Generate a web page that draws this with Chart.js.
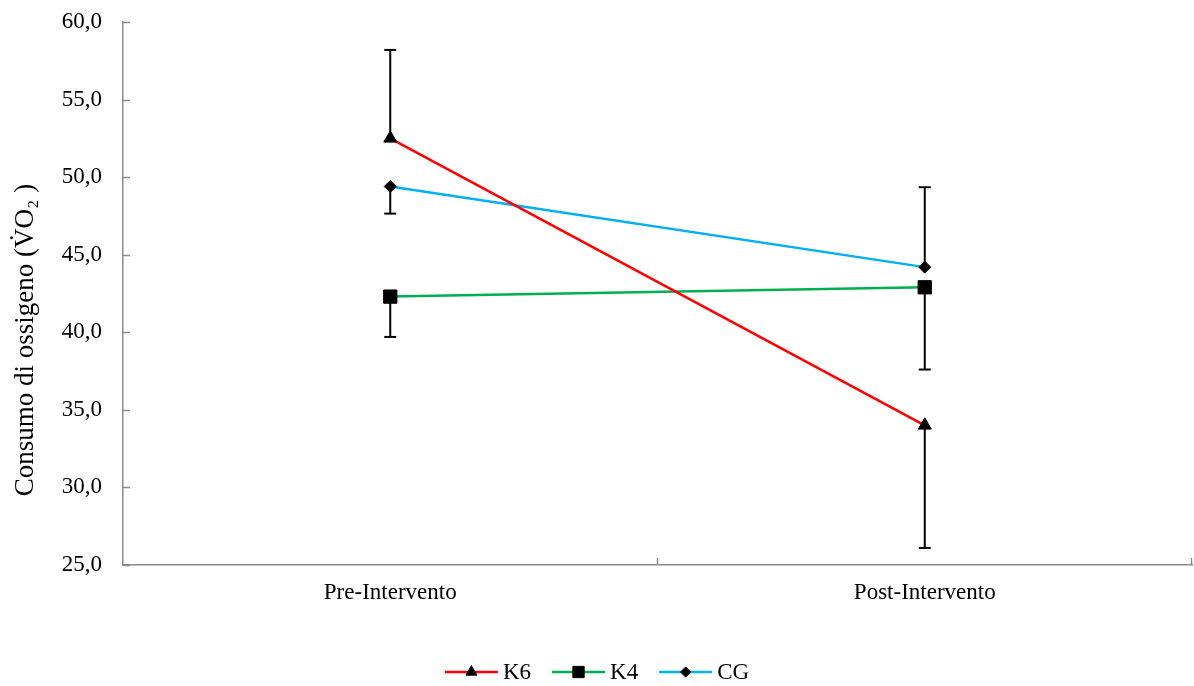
<!DOCTYPE html>
<html><head><meta charset="utf-8">
<script src="https://cdn.jsdelivr.net/npm/chart.js@4/dist/chart.umd.min.js"></script>
<style>html,body{margin:0;padding:0;background:#fff}#wrap{width:1194px;height:686px;position:relative}</style>
</head><body><div id="wrap"><canvas id="c"></canvas></div>
<script>
const categories = ['Pre-Intervento', 'Post-Intervento'];
const seriesNames = ['K6', 'K4', 'CG'];
const k6Values = [52.5, 34.0];
const k4Values = [42.3, 42.9];
const cgValues = [49.4, 44.2];
const k6ErrPlus = [5.7, 0];
const k6ErrMinus = [0, 7.9];
const k4ErrPlus = [0, 0];
const k4ErrMinus = [2.6, 5.3];
const cgErrPlus = [0, 5.15];
const cgErrMinus = [1.75, 0];
const yTickValues = [25, 30, 35, 40, 45, 50, 55, 60];
const yTitle = 'Consumo di ossigeno (V\u0307O\u2082 )';

const seriesValues = [k6Values, k4Values, cgValues];
const seriesPlus = [k6ErrPlus, k4ErrPlus, cgErrPlus];
const seriesMinus = [k6ErrMinus, k4ErrMinus, cgErrMinus];
const colors = ['#ff0000', '#00b050', '#00b0f0'];
const styles = ['triangle', 'rect', 'rectRot'];
const radii = [7.5, 9.4, 6];
const FONT = '"Liberation Serif", "Times New Roman", serif';
const AXIS = '#8c8c8c';

function noPad(s) { s.paddingTop = 0; s.paddingBottom = 0; s.paddingLeft = 0; s.paddingRight = 0; }

const extras = {
  id: 'extras',
  afterDatasetsDraw(chart) {
    const ctx = chart.ctx, xs = chart.scales.x, ys = chart.scales.y;
    ctx.save();
    ctx.strokeStyle = '#000';
    ctx.lineWidth = 2;
    const cap = 6;
    seriesValues.forEach((vals, di) => {
      vals.forEach((v, i) => {
        const px = xs.getPixelForValue(i);
        const p = seriesPlus[di][i], m = seriesMinus[di][i];
        const top = ys.getPixelForValue(v + p);
        const bot = ys.getPixelForValue(v - m);
        if (p > 0 || m > 0) {
          ctx.beginPath(); ctx.moveTo(px, top); ctx.lineTo(px, bot); ctx.stroke();
        }
        if (p > 0) { ctx.beginPath(); ctx.moveTo(px - cap, top); ctx.lineTo(px + cap, top); ctx.stroke(); }
        if (m > 0) { ctx.beginPath(); ctx.moveTo(px - cap, bot); ctx.lineTo(px + cap, bot); ctx.stroke(); }
      });
    });
    ctx.restore();
  },
  afterDraw(chart) {
    const ctx = chart.ctx, xs = chart.scales.x, ys = chart.scales.y, a = chart.chartArea;
    ctx.save();
    // inward tick marks
    ctx.strokeStyle = AXIS; ctx.lineWidth = 1.5;
    yTickValues.forEach(v => {
      const py = Math.round(ys.getPixelForValue(v)) + 0.5;
      ctx.beginPath(); ctx.moveTo(a.left, py); ctx.lineTo(a.left + 7, py); ctx.stroke();
    });
    const bounds = [(xs.getPixelForValue(0) + xs.getPixelForValue(1)) / 2, a.right];
    bounds.forEach(bx => {
      const px = Math.round(bx) - 0.5;
      ctx.beginPath(); ctx.moveTo(px, a.bottom); ctx.lineTo(px, a.bottom - 7); ctx.stroke();
    });
    // y title
    ctx.fillStyle = '#000';
    ctx.font = '27px ' + FONT;
    ctx.translate(26, 340); ctx.rotate(-Math.PI / 2);
    ctx.textAlign = 'center'; ctx.textBaseline = 'middle';
    ctx.fillText(yTitle, 0, 0);
    ctx.restore();
    // legend
    ctx.save();
    ctx.font = '23px ' + FONT;
    const lineLen = 53, gap = 5, itemGap = 21;
    const widths = seriesNames.map(n => lineLen + gap + ctx.measureText(n).width);
    const total = widths.reduce((s, w) => s + w, 0) + itemGap * (seriesNames.length - 1);
    let x = chart.width / 2 - total / 2;
    const y = 672;
    seriesNames.forEach((n, i) => {
      ctx.strokeStyle = colors[i]; ctx.lineWidth = 2.5;
      ctx.beginPath(); ctx.moveTo(x, y); ctx.lineTo(x + lineLen, y); ctx.stroke();
      ctx.fillStyle = '#000'; ctx.strokeStyle = '#000'; ctx.lineWidth = 1;
      Chart.helpers.drawPoint(ctx, {pointStyle: styles[i], radius: radii[i] * 0.85, rotation: 0, borderWidth: 1}, x + lineLen / 2, y);
      ctx.fillStyle = '#000'; ctx.textAlign = 'left'; ctx.textBaseline = 'middle';
      ctx.fillText(n, x + lineLen + gap, y + 1);
      x += widths[i] + itemGap;
    });
    ctx.restore();
  }
};

new Chart(document.getElementById('c'), {
  type: 'line',
  data: {
    labels: categories,
    datasets: seriesNames.map((n, i) => ({
      label: n,
      data: seriesValues[i],
      borderColor: colors[i],
      backgroundColor: colors[i],
      borderWidth: 2.5,
      pointStyle: styles[i],
      pointRadius: radii[i],
      pointHoverRadius: radii[i],
      pointBackgroundColor: '#000',
      pointBorderColor: '#000',
      pointBorderWidth: 1,
      tension: 0,
      fill: false
    }))
  },
  options: {
    responsive: true,
    maintainAspectRatio: false,
    animation: false,
    events: [],
    layout: {autoPadding: false, padding: {left: 0, right: 2, top: 22, bottom: 71}},
    plugins: {legend: {display: false}, tooltip: {enabled: false}},
    scales: {
      x: {
        offset: true,
        grid: {display: false, drawTicks: false},
        border: {display: true, color: AXIS, width: 1.5},
        ticks: {color: '#000', font: {family: FONT, size: 23}, padding: 14, maxRotation: 0},
        afterFit(s) { s.height = 50; noPad(s); }
      },
      y: {
        min: 25, max: 60,
        afterBuildTicks(s) { s.ticks = yTickValues.map(v => ({value: v})); },
        grid: {display: false, drawTicks: false},
        border: {display: true, color: AXIS, width: 1.5},
        ticks: {color: '#000', font: {family: FONT, size: 23}, padding: 21,
          callback: v => v.toFixed(1).replace('.', ',')},
        afterFit(s) { s.width = 123; noPad(s); }
      }
    }
  },
  plugins: [extras]
});
</script>
</body></html>
